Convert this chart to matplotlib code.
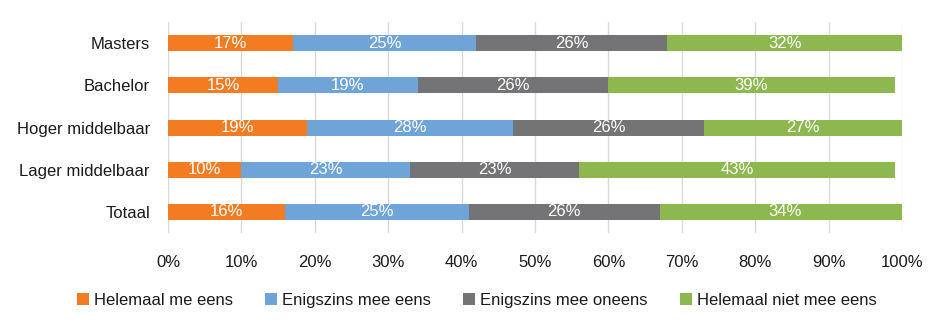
import matplotlib.pyplot as plt
import numpy as np

plt.rcParams["font.family"] = ["Liberation Sans", "DejaVu Sans"]

# categorieen (van onder naar boven)
categorieen = ["Totaal", "Lager middelbaar", "Hoger middelbaar", "Bachelor", "Masters"]
series = ["Helemaal me eens", "Enigszins mee eens", "Enigszins mee oneens", "Helemaal niet mee eens"]
helemaal_eens = [16, 10, 19, 15, 17]
enigszins_eens = [25, 23, 28, 19, 25]
enigszins_oneens = [26, 23, 26, 26, 26]
helemaal_oneens = [34, 43, 27, 39, 32]
x_ticks = [0, 10, 20, 30, 40, 50, 60, 70, 80, 90, 100]

kleuren = ["#F37B22", "#6FA4D9", "#747476", "#8DB74F"]

fig = plt.figure(figsize=(9.46, 3.30), dpi=100)
ax = fig.add_axes([0.1776, 0.294, 0.7759, 0.639])

y = np.arange(len(categorieen))
links = np.zeros(len(categorieen))
for naam, waarden, kleur in zip(series, [helemaal_eens, enigszins_eens, enigszins_oneens, helemaal_oneens], kleuren):
    waarden = np.array(waarden, dtype=float)
    ax.barh(y, waarden, left=links, height=0.38, color=kleur, label=naam, zorder=3)
    for yi, l, w in zip(y, links, waarden):
        ax.text(l + w / 2, yi, f"{int(w)}%", ha="center", va="center", color="white", fontsize=12, zorder=4)
    links = links + waarden

ax.set_xlim(0, 100)
ax.set_ylim(-0.5, len(categorieen) - 0.5)
ax.set_yticks(y)
ax.set_yticklabels(categorieen, fontsize=12, color="#1A1A1A")
ax.set_xticks(x_ticks)
ax.set_xticklabels([f"{t}%" for t in x_ticks], fontsize=12, color="#1A1A1A")
ax.tick_params(axis="both", length=0)
ax.tick_params(axis="x", pad=16)
ax.tick_params(axis="y", pad=13)
ax.grid(axis="x", color="#D9D9D9", linewidth=1, zorder=0)
for s in ax.spines.values():
    s.set_visible(False)

fig.legend(loc="center", bbox_to_anchor=(0.504, 0.09), ncol=4, frameon=False, fontsize=12,
           handlelength=0.75, handleheight=0.75, handletextpad=0.3, columnspacing=1.9,
           labelcolor="#1A1A1A")

fig.savefig("out.png", dpi=100)
